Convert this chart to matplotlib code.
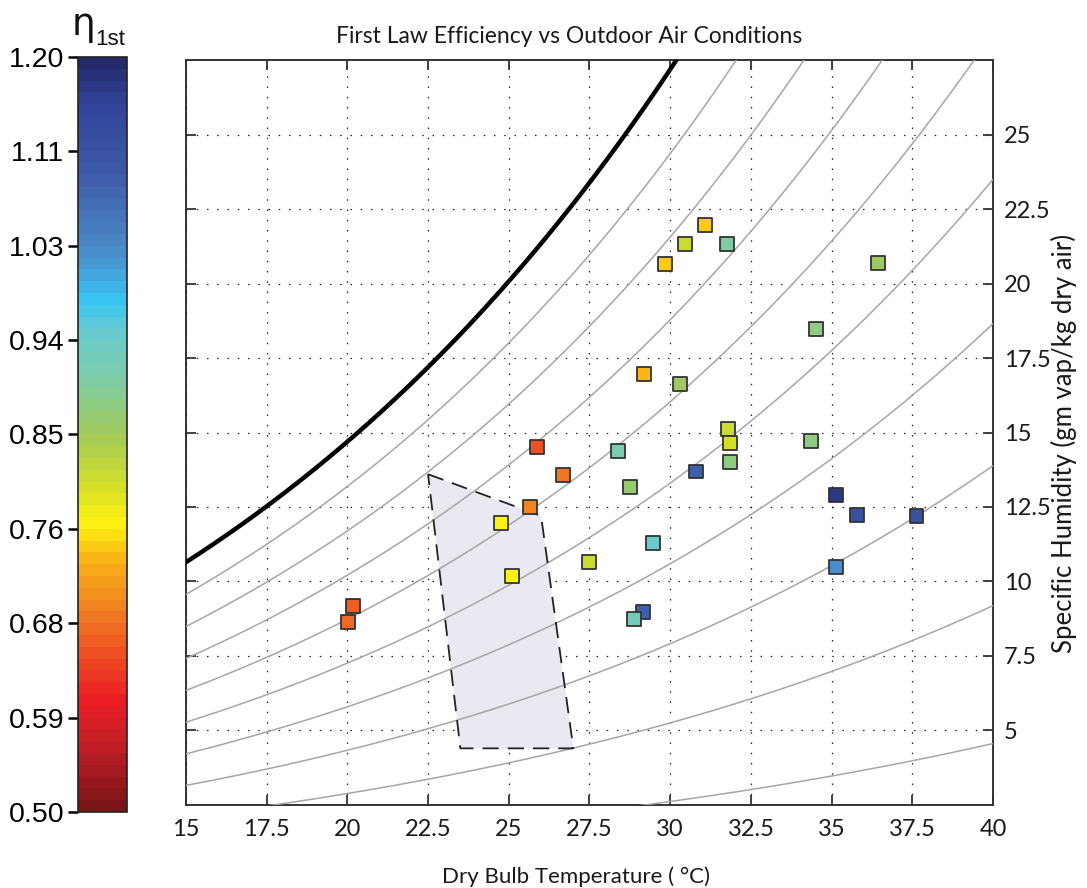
import numpy as np
import matplotlib
matplotlib.use("Agg")
import matplotlib.pyplot as plt
from matplotlib.colors import LinearSegmentedColormap, Normalize
from matplotlib.cm import ScalarMappable
from matplotlib.ticker import FixedLocator, FormatStrFormatter

# ---------------- data ----------------
dry_bulb = [20.18, 20.03, 25.88, 26.69, 25.66, 24.76, 25.11, 27.49, 31.78, 31.85,
            31.85, 28.39, 28.75, 30.80, 34.35, 35.15, 35.80, 37.63, 35.14, 29.48,
            29.17, 28.89, 31.09, 30.46, 31.75, 29.84, 36.43, 34.51, 29.18, 30.30]
spec_hum = [9.17, 8.63, 14.52, 13.56, 12.49, 11.97, 10.18, 10.65, 15.12, 14.65,
            14.02, 14.37, 13.18, 13.69, 14.71, 12.90, 12.23, 12.19, 10.49, 11.30,
            8.97, 8.75, 21.96, 21.33, 21.33, 20.66, 20.69, 18.46, 16.97, 16.63]
eta_1st = [0.66, 0.665, 0.645, 0.68, 0.69, 0.765, 0.77, 0.81, 0.81, 0.805,
           0.88, 0.91, 0.87, 1.09, 0.88, 1.17, 1.12, 1.12, 1.02, 0.94,
           1.08, 0.92, 0.75, 0.81, 0.90, 0.75, 0.85, 0.88, 0.73, 0.86]

rh_levels = [0.1, 0.2, 0.3, 0.4, 0.5, 0.6, 0.7, 0.8, 0.9]
comfort_T = [22.5, 26.0, 27.0, 23.5]
comfort_W = [13.6, 12.2, 4.4, 4.4]

x_ticks = [15, 17.5, 20, 22.5, 25, 27.5, 30, 32.5, 35, 37.5, 40]
y_ticks = [5, 7.5, 10, 12.5, 15, 17.5, 20, 22.5, 25]
cbar_ticks = [0.50, 0.5875, 0.675, 0.7625, 0.85, 0.9375, 1.025, 1.1125, 1.20]
cbar_labels = ['0.50', '0.59', '0.68', '0.76', '0.85', '0.94', '1.03', '1.11', '1.20']

P_ATM = 101.325  # kPa

# ---------------- colormap ----------------
anchors = [(0.50, '#7b1416'), (0.56, '#c41f26'), (0.60, '#ec1c24'), (0.68, '#f07a22'),
           (0.73, '#f9b016'), (0.765, '#fff212'), (0.80, '#d6df26'), (0.85, '#a1cb5a'),
           (0.90, '#7fcca2'), (0.95, '#66cad2'), (0.975, '#36c7f4'), (1.00, '#44a6de'),
           (1.03, '#4a86c4'), (1.10, '#3d58a8'), (1.16, '#31449a'), (1.20, '#24296b')]
vmin, vmax = 0.5, 1.2
cmap = LinearSegmentedColormap.from_list(
    'eta', [((v - vmin) / (vmax - vmin), c) for v, c in anchors], N=64)
norm = Normalize(vmin=vmin, vmax=vmax)


def psat(T):
    return 0.61078 * np.exp(17.27 * T / (T + 237.3))


def hum_ratio(T, phi):
    p = phi * psat(T)
    return 622.0 * p / (P_ATM - p)


# ---------------- figure ----------------
fig = plt.figure(figsize=(10.87, 8.88), dpi=100)
ax = fig.add_axes([0.1711, 0.0935, 0.7424, 0.8389])
cax = fig.add_axes([0.0718, 0.0856, 0.0451, 0.8502])

tick_font = 'Lato'

ax.set_xlim(15, 40)
ax.set_ylim(2.5, 27.5)

# comfort zone
ax.fill(comfort_T, comfort_W, facecolor='#e9e9f2', edgecolor='none', zorder=1)
ax.plot(comfort_T + comfort_T[:1], comfort_W + comfort_W[:1], color='#222222',
        lw=1.3, linestyle=(0, (9, 5)), zorder=4)

# grid
ax.xaxis.set_major_locator(FixedLocator(x_ticks))
ax.yaxis.set_major_locator(FixedLocator(y_ticks))
ax.grid(True, color='#222222', lw=0.9, linestyle=(0, (1.2, 7.0)), zorder=2)
ax.set_axisbelow(True)

# RH curves
T = np.linspace(15, 40, 400)
for phi in rh_levels:
    ax.plot(T, hum_ratio(T, phi), color='#a6a6a6', lw=1.1, zorder=3)
# saturation curve
ax.plot(T, hum_ratio(T, 1.0), color='black', lw=3.2, zorder=3)

# data points
ax.scatter(dry_bulb, spec_hum, c=eta_1st, cmap=cmap, norm=norm, marker='s', s=100,
           edgecolors='#333333', linewidths=1.3, zorder=6)

# ticks
ax.xaxis.set_major_formatter(FormatStrFormatter('%g'))
ax.yaxis.set_major_formatter(FormatStrFormatter('%g'))
ax.tick_params(axis='x', which='both', direction='in', top=True, bottom=True,
               length=7, width=1.3, color='#333333', pad=10, labelsize=17)
ax.tick_params(axis='y', which='both', direction='in', left=True, right=True,
               labelleft=False, labelright=True, length=7, width=1.3,
               color='#333333', pad=8, labelsize=17)
for lab in ax.get_xticklabels() + ax.get_yticklabels():
    lab.set_fontfamily(tick_font)
    lab.set_color('#1a1a1a')
for sp in ax.spines.values():
    sp.set_color('#333333')
    sp.set_linewidth(1.4)

ax.set_title('First Law Efficiency vs Outdoor Air Conditions', fontfamily=tick_font,
             fontsize=16.5, color='#1a1a1a', pad=12, x=0.475)
ax.set_xlabel('Dry Bulb Temperature ( °C)', fontfamily=tick_font, fontsize=16,
              color='#1a1a1a')
ax.xaxis.set_label_coords(0.483, -0.082)
ax.yaxis.set_label_position('right')
ax.set_ylabel('Specific Humidity (gm vap/kg dry air)', fontfamily=tick_font,
              fontsize=18.5, color='#1a1a1a')
ax.yaxis.set_label_coords(1.072, 0.485)

# colorbar
sm = ScalarMappable(norm=norm, cmap=cmap)
cb = fig.colorbar(sm, cax=cax, orientation='vertical')
cb.set_ticks(cbar_ticks)
cb.set_ticklabels(cbar_labels)
cax.yaxis.set_ticks_position('left')
cax.yaxis.set_label_position('left')
cax.tick_params(axis='y', direction='out', length=7, width=1.8, color='black',
                pad=3, labelsize=20.5)
for lab in cax.get_yticklabels():
    lab.set_fontfamily('Liberation Sans')
cb.outline.set_edgecolor('#222222')
cb.outline.set_linewidth(1.2)
cb.minorticks_off()

fig.text(0.066, 0.972, 'η', fontsize=27, ha='left', va='center', color='#111111',
         fontfamily='DejaVu Sans')
fig.text(0.088, 0.956, '1st', fontsize=16, ha='left', va='center', color='#111111',
         fontfamily='Liberation Sans')

fig.savefig('out.png', dpi=100)
